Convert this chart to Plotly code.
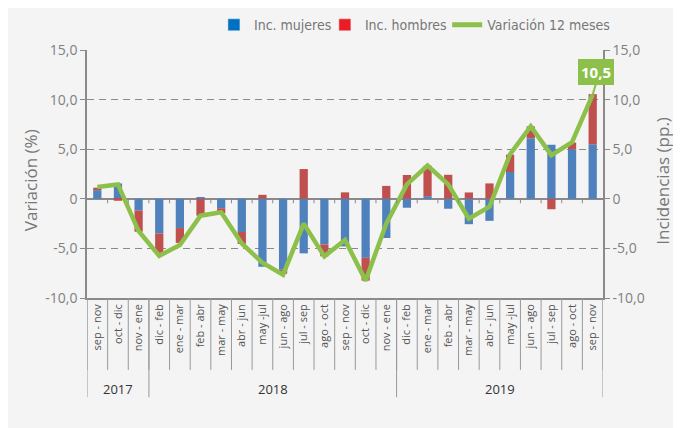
import plotly.graph_objects as go

# periodos (trimestres móviles) y años
periodos = ["sep - nov", "oct - dic", "nov - ene",
            "dic - feb", "ene - mar", "feb - abr", "mar - may", "abr - jun", "may -jul",
            "jun - ago", "jul - sep", "ago - oct", "sep - nov", "oct - dic", "nov - ene",
            "dic - feb", "ene - mar", "feb - abr", "mar - may", "abr - jun", "may -jul",
            "jun - ago", "jul - sep", "ago - oct", "sep - nov"]
anios = ["2017", "2018", "2019"]
n_por_anio = [3, 12, 10]

inc_mujeres = [0.87, 1.55, -1.17, -3.5, -2.95, 0.15, -0.95, -3.35, -6.85, -7.15, -5.5, -4.6, -4.8,
               -5.95, -3.95, -0.9, 0.27, -1.0, -2.56, -2.22, 2.7, 6.1, 5.45, 5.0, 5.5]
inc_hombres = [0.25, -0.2, -2.15, -1.95, -1.5, -1.7, -0.5, -1.2, 0.4, -0.4, 3.0, -1.2, 0.65,
               -2.3, 1.3, 2.4, 3.06, 2.42, 0.64, 1.55, 1.75, 1.2, -1.05, 0.67, 5.05]
variacion = [1.2, 1.45, -3.25, -5.75, -4.65, -1.7, -1.35, -4.5, -6.45, -7.65, -2.5, -5.8, -4.15,
             -8.25, -2.5, 1.45, 3.35, 1.45, -2.0, -0.8, 4.5, 7.3, 4.4, 5.7, 10.5]

yticks = [-10, -5, 0, 5, 10, 15]
yticktext = ["-10,0", "-5,0", "0", "5,0", "10,0", "15,0"]

x = list(range(len(periodos)))
c_muj, c_hom, c_var = "#4F81BD", "#C0504D", "#8DC04A"
gris = "#8a8a8a"
narrow = "Liberation Sans Narrow, DejaVu Sans Condensed, Open Sans"

fig = go.Figure()
fig.add_trace(go.Bar(x=x, y=inc_mujeres, width=0.4, marker_color=c_muj,
                     marker_line_width=0, showlegend=False))
fig.add_trace(go.Bar(x=x, y=inc_hombres, width=0.4, marker_color=c_hom,
                     marker_line_width=0, showlegend=False))
fig.add_trace(go.Scatter(x=x, y=variacion, mode="lines", yaxis="y2",
                         line=dict(color=c_var, width=4.5), showlegend=False))

# entradas de leyenda (una leyenda por entrada para controlar la posición)
fig.add_trace(go.Bar(x=[None], y=[None], name="Inc. mujeres", marker_color="#0070C0",
                     legend="legend"))
fig.add_trace(go.Bar(x=[None], y=[None], name="Inc. hombres", marker_color="#ED1C24",
                     legend="legend2"))
fig.add_trace(go.Scatter(x=[None], y=[None], mode="lines", name="Variación 12 meses",
                         line=dict(color=c_var, width=5), legend="legend3"))

shapes = []
# separadores de categorías bajo el eje
for b in range(len(periodos) + 1):
    shapes.append(dict(type="line", xref="x", yref="paper", x0=b - 0.5, x1=b - 0.5,
                       y0=0, y1=-0.29, line=dict(color="#999", width=1)))
    if 0 < b < len(periodos):
        shapes.append(dict(type="line", xref="x", yref="y", x0=b - 0.5, x1=b - 0.5,
                           y0=0, y1=-0.45, line=dict(color=gris, width=1)))
# separadores de años
pos = -0.5
bordes = [pos]
for n in n_por_anio:
    pos += n
    bordes.append(pos)
for b in bordes:
    shapes.append(dict(type="line", xref="x", yref="paper", x0=b, x1=b,
                       y0=0, y1=-0.40, line=dict(color="#999", width=1)))

annotations = []
for i, a in enumerate(anios):
    annotations.append(dict(x=(bordes[i] + bordes[i + 1]) / 2, y=-0.365, xref="x", yref="paper",
                            yanchor="middle", text=a, showarrow=False,
                            font=dict(family="Open Sans", size=13, color="#333")))
annotations.append(dict(x=-0.109, y=0.474, xref="paper", yref="paper", text="Variación (%)",
                        xanchor="center", yanchor="middle", textangle=-90, showarrow=False,
                        font=dict(family="Open Sans", size=17, color="#777")))
annotations.append(dict(x=1.115, y=0.474, xref="paper", yref="paper", text="Incidencias (pp.)",
                        xanchor="center", yanchor="middle", textangle=-90, showarrow=False,
                        font=dict(family="Open Sans", size=17, color="#777")))
ultimo = variacion[-1]
annotations.append(dict(x=x[-1], y=ultimo, xref="x", yref="y2",
                        text="<b>" + f"{ultimo:.1f}".replace(".", ",") + "</b>",
                        showarrow=True, arrowhead=0, arrowcolor=c_var, arrowwidth=2,
                        ax=3, ay=-10, yanchor="bottom", bgcolor=c_var, bordercolor=c_var,
                        borderpad=2, font=dict(family="Open Sans", size=15, color="white")))

yax = dict(range=[-10, 15], tickvals=yticks, ticktext=yticktext,
           tickfont=dict(family="Open Sans", size=14, color="#808080"),
           showline=True, linecolor=gris, linewidth=1.5, ticks="outside", ticklen=5,
           tickcolor=gris)

leg = dict(orientation="h", y=1.1, xanchor="left", yanchor="middle",
           font=dict(family=narrow, size=14, color="#777"), bgcolor="rgba(0,0,0,0)")

fig.update_layout(
    width=681, height=428,
    margin=dict(l=79, r=86, t=42, b=138, autoexpand=False),
    paper_bgcolor="#f4f4f4", plot_bgcolor="#f4f4f4",
    barmode="relative",
    xaxis=dict(range=[-0.5, len(periodos) - 0.5], tickvals=x, ticktext=periodos, tickangle=-90,
               tickfont=dict(family="Open Sans", size=11, color="#555"), ticks="",
               showline=True, linecolor=gris, linewidth=1.5, showgrid=False, zeroline=False),
    yaxis=dict(**yax, showgrid=True, gridcolor=gris, griddash="7px,5px", gridwidth=1,
               zeroline=True, zerolinecolor=gris, zerolinewidth=1.5),
    yaxis2=dict(**yax, overlaying="y", side="right", showgrid=False, zeroline=False),
    legend=dict(**leg, x=0.246),
    legend2=dict(**leg, x=0.461),
    legend3=dict(**leg, x=0.698),
    shapes=shapes, annotations=annotations,
)

fig.write_html("out.html")
